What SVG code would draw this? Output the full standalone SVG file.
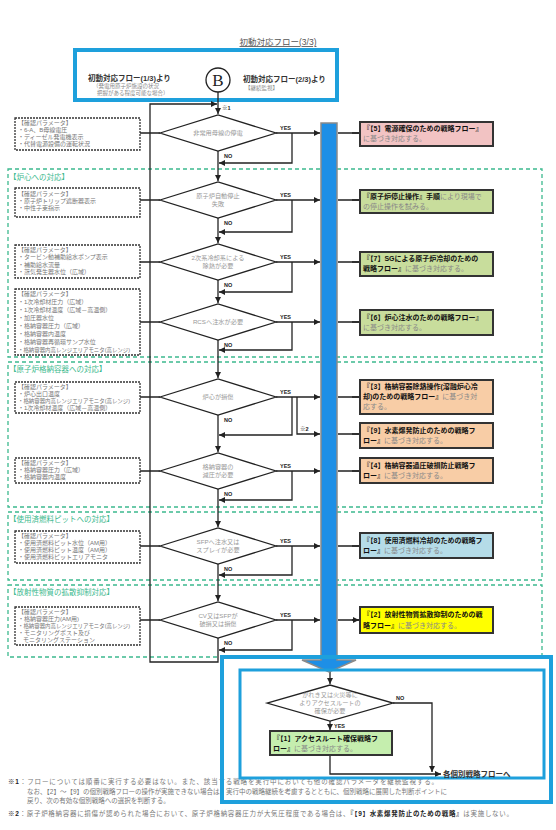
<svg xmlns="http://www.w3.org/2000/svg" width="556" height="830" viewBox="0 0 556 830">
<defs>
<marker id="ah" viewBox="0 0 10 10" refX="10" refY="5" markerWidth="6" markerHeight="6" markerUnits="userSpaceOnUse" orient="auto"><path d="M0,0 L10,5 L0,10 z" fill="#222"/></marker>
<style>
text{font-family:"Liberation Sans","Noto Sans CJK JP",sans-serif}
.title{font-size:8.5px;fill:#555;text-anchor:middle;text-decoration:underline}
.dia{fill:#fff;stroke:#222;stroke-width:1.3}
.dt{font-size:6.2px;fill:#999;text-anchor:middle}
.pbox{fill:#fff;stroke:#333;stroke-width:1.3;stroke-dasharray:2 1}
.pt{font-size:6px;fill:#777}
.sec{fill:none;stroke:#3cb98e;stroke-width:1.3;stroke-dasharray:4 3}
.st{font-size:7.5px;fill:#3cb98e}
.box{stroke:#333;stroke-width:2}
.bt{font-size:7px;fill:#111;font-weight:bold}
.g{font-weight:normal;fill:#888}
.ln{fill:none;stroke:#222;stroke-width:1.3}
.lab{font-size:5.5px;font-weight:bold;fill:#222}
.note{font-size:6.5px;fill:#777}
.nb{font-weight:bold;fill:#222}
</style>
</defs>
<rect width="556" height="830" fill="#fff"/>

<text class="title" x="278" y="45">初動対応フロー(3/3)</text>

<!-- sections -->
<g id="sections">
<rect class="sec" x="8" y="169" width="534" height="188"/>
<text class="st" x="9" y="180">【炉心への対応】</text>
<rect class="sec" x="8" y="362" width="534" height="145"/>
<text class="st" x="9" y="372">【原子炉格納容器への対応】</text>
<rect class="sec" x="8" y="512" width="534" height="68"/>
<text class="st" x="9" y="522">【使用済燃料ピットへの対応】</text>
<rect class="sec" x="8" y="585" width="534" height="72"/>
<text class="st" x="9" y="595">【放射性物質の拡散抑制対応】</text>
</g>

<!-- top box -->
<g id="start">
<rect x="75" y="50" width="262" height="50" fill="#fff" stroke="#1ea0dc" stroke-width="4"/>
<text x="88" y="81" font-size="7.5" font-weight="bold" fill="#333">初動対応フロー(1/3)より</text>
<text x="93" y="88" font-size="5.5" fill="#888">（発電用原子炉施設の状況</text>
<text x="97" y="95" font-size="5.5" fill="#888">把握がある程度可能な場合）</text>
<circle cx="218" cy="80" r="12" fill="#fff" stroke="#222" stroke-width="1.3"/>
<text x="218" y="86" font-size="17" text-anchor="middle" fill="#222" style="font-family:'Liberation Serif',serif">B</text>
<text x="243" y="82" font-size="7.5" font-weight="bold" fill="#333">初動対応フロー(2/3)より</text>
<text x="245" y="90" font-size="5.5" fill="#888">【継続監視】</text>
</g>

<!-- parameter boxes -->
<g id="p1"><rect class="pbox" x="15" y="118" width="125" height="32"/>
<text class="pt" x="18" y="125">【確認パラメータ】</text><text class="pt" x="18" y="132">・6-A、B母線電圧</text><text class="pt" x="18" y="139">・ディーゼル発電機表示</text><text class="pt" x="18" y="146">・代替電源設備の運転状況</text></g>
<g id="p2"><rect class="pbox" x="15" y="188" width="125" height="29"/>
<text class="pt" x="18" y="196">【確認パラメータ】</text><text class="pt" x="18" y="203">・原子炉トリップ遮断器表示</text><text class="pt" x="18" y="210">・中性子束指示</text></g>
<g id="p3"><rect class="pbox" x="15" y="245" width="125" height="33"/>
<text class="pt" x="18" y="252">【確認パラメータ】</text><text class="pt" x="18" y="259">・タービン動補助給水ポンプ表示</text><text class="pt" x="18" y="267">・補助給水流量</text><text class="pt" x="18" y="274">・蒸気発生器水位（広域）</text></g>
<g id="p4"><rect class="pbox" x="15" y="289" width="125" height="66"/>
<text class="pt" x="18" y="296">【確認パラメータ】</text><text class="pt" x="18" y="304">・1次冷却材圧力（広域）</text><text class="pt" x="18" y="312">・1次冷却材温度（広域－高温側）</text><text class="pt" x="18" y="320">・加圧器水位</text><text class="pt" x="18" y="328">・格納容器圧力（広域）</text><text class="pt" x="18" y="336">・格納容器内温度</text><text class="pt" x="18" y="344">・格納容器再循環サンプ水位</text><text class="pt" x="18" y="352" textLength="112" lengthAdjust="spacingAndGlyphs">・格納容器内高レンジエリアモニタ(高レンジ)</text></g>
<g id="p5"><rect class="pbox" x="15" y="382" width="125" height="31"/>
<text class="pt" x="18" y="389">【確認パラメータ】</text><text class="pt" x="18" y="396">・炉心出口温度</text><text class="pt" x="18" y="403" textLength="112" lengthAdjust="spacingAndGlyphs">・格納容器内高レンジエリアモニタ(高レンジ)</text><text class="pt" x="18" y="410">・1次冷却材温度（広域－高温側）</text></g>
<g id="p6"><rect class="pbox" x="15" y="458" width="125" height="25"/>
<text class="pt" x="18" y="465">【確認パラメータ】</text><text class="pt" x="18" y="472">・格納容器圧力（広域）</text><text class="pt" x="18" y="479">・格納容器内温度</text></g>
<g id="p7"><rect class="pbox" x="15" y="531" width="125" height="32"/>
<text class="pt" x="18" y="538">【確認パラメータ】</text><text class="pt" x="18" y="545">・使用済燃料ピット水位（AM用）</text><text class="pt" x="18" y="552">・使用済燃料ピット温度（AM用）</text><text class="pt" x="18" y="559">・使用済燃料ピットエリアモニタ</text></g>
<g id="p8"><rect class="pbox" x="15" y="607" width="125" height="38"/>
<text class="pt" x="18" y="614">【確認パラメータ】</text><text class="pt" x="18" y="621">・格納容器圧力(AM用)</text><text class="pt" x="18" y="628" textLength="112" lengthAdjust="spacingAndGlyphs">・格納容器内高レンジエリアモニタ(高レンジ)</text><text class="pt" x="18" y="635">・モニタリングポスト及び</text><text class="pt" x="23" y="642">モニタリングステーション</text></g>

<!-- connectors -->
<g id="connectors">
<path class="ln" d="M218,92 V114" marker-end="url(#ah)"/>
<path class="ln" d="M218,638 V662 H150 V104 H217" marker-end="url(#ah)"/>
<text class="lab" x="222" y="110">※1</text>
<!-- param links -->
<path class="ln" d="M140,133 H160 M140,200 H160 M140,262 H160 M140,322 H160 M140,397 H160 M140,471 H160 M140,546 H160 M140,620 H160"/>
<!-- main line -->
<path class="ln" d="M218,151 V181" marker-end="url(#ah)"/>
<path class="ln" d="M218,218 V243" marker-end="url(#ah)"/>
<path class="ln" d="M218,280 V303" marker-end="url(#ah)"/>
<path class="ln" d="M218,340 V378" marker-end="url(#ah)"/>
<path class="ln" d="M218,415 V452" marker-end="url(#ah)"/>
<path class="ln" d="M218,489 V527" marker-end="url(#ah)"/>
<path class="ln" d="M218,564 V601" marker-end="url(#ah)"/>
<!-- YES to bar -->
<path class="ln" d="M276,133 H320" marker-end="url(#ah)"/>
<path class="ln" d="M276,200 H320" marker-end="url(#ah)"/>
<path class="ln" d="M276,262 H320" marker-end="url(#ah)"/>
<path class="ln" d="M276,322 H320" marker-end="url(#ah)"/>
<path class="ln" d="M276,397 H320" marker-end="url(#ah)"/>
<path class="ln" d="M276,471 H320" marker-end="url(#ah)"/>
<path class="ln" d="M276,546 H320" marker-end="url(#ah)"/>
<path class="ln" d="M276,620 H320" marker-end="url(#ah)"/>
<!-- joins -->
<path class="ln" d="M292,133 V163 H219" marker-end="url(#ah)"/>
<path class="ln" d="M292,200 V232 H219" marker-end="url(#ah)"/>
<path class="ln" d="M292,262 V292 H219" marker-end="url(#ah)"/>
<path class="ln" d="M292,322 V350 H219" marker-end="url(#ah)"/>
<path class="ln" d="M292,397 V435 H219" marker-end="url(#ah)"/>
<path class="ln" d="M297,397 V434 H320" marker-end="url(#ah)"/>
<path class="ln" d="M292,471 V500 H219" marker-end="url(#ah)"/>
<path class="ln" d="M292,546 V575 H219" marker-end="url(#ah)"/>
<path class="ln" d="M292,620 V650 H219" marker-end="url(#ah)"/>
<text class="lab" x="300" y="431">※2</text>
<!-- bar to boxes -->
<path class="ln" d="M338,133 H359 M338,200 H359 M338,262 H359 M338,322 H359 M338,397 H359 M338,434 H359 M338,471 H359 M338,546 H359 M338,620 H359"/>
<path class="ln" d="M352,133 H359 M352,200 H359 M352,262 H359 M352,322 H359 M352,397 H359 M352,434 H359 M352,471 H359 M352,546 H359 M352,620 H359" marker-end="url(#ah)"/>
<!-- YES/NO labels -->
<g class="lab">
<text x="280" y="130">YES</text><text x="280" y="197">YES</text><text x="280" y="259">YES</text><text x="280" y="319">YES</text><text x="280" y="394">YES</text><text x="280" y="468">YES</text><text x="280" y="543">YES</text><text x="280" y="617">YES</text>
<text x="224" y="158">NO</text><text x="224" y="225">NO</text><text x="224" y="287">NO</text><text x="224" y="347">NO</text><text x="224" y="422">NO</text><text x="224" y="496">NO</text><text x="224" y="571">NO</text><text x="224" y="645">NO</text>
</g>
<!-- bottom area -->
<path class="ln" d="M330,672 V684" marker-end="url(#ah)"/>
<path class="ln" d="M393,703 H432 V772" marker-end="url(#ah)"/>
<path class="ln" d="M330,721 V730" marker-end="url(#ah)"/>
<path class="ln" d="M330,755 V774 H441" marker-end="url(#ah)"/>
<text class="lab" x="396" y="700">NO</text>
<text class="lab" x="334" y="728">YES</text>
</g>

<!-- blue bar -->
<g id="bar">
<polygon points="321,123 337,123 337,660 356,660 329,672 302,660 321,660" fill="#1e8fe6" stroke="#8a8a8a" stroke-width="1.5"/>
</g>

<!-- diamonds -->
<g id="d1"><polygon class="dia" points="160,133 218,115 276,133 218,151"/><text class="dt" x="218" y="135">非常用母線の停電</text></g>
<g id="d2"><polygon class="dia" points="160,200 218,182 276,200 218,218"/><text class="dt" x="218" y="198">原子炉自動停止</text><text class="dt" x="218" y="206">失敗</text></g>
<g id="d3"><polygon class="dia" points="160,262 218,244 276,262 218,280"/><text class="dt" x="218" y="260">2次系冷却系による</text><text class="dt" x="218" y="268">除熱が必要</text></g>
<g id="d4"><polygon class="dia" points="160,322 218,304 276,322 218,340"/><text class="dt" x="218" y="324">RCSへ注水が必要</text></g>
<g id="d5"><polygon class="dia" points="160,397 218,379 276,397 218,415"/><text class="dt" x="218" y="399">炉心が損傷</text></g>
<g id="d6"><polygon class="dia" points="160,471 218,453 276,471 218,489"/><text class="dt" x="218" y="469">格納容器の</text><text class="dt" x="218" y="477">減圧が必要</text></g>
<g id="d7"><polygon class="dia" points="160,546 218,528 276,546 218,564"/><text class="dt" x="218" y="544">SFPへ注水又は</text><text class="dt" x="218" y="552">スプレイが必要</text></g>
<g id="d8"><polygon class="dia" points="160,620 218,602 276,620 218,638"/><text class="dt" x="218" y="618">CV又はSFPが</text><text class="dt" x="218" y="626">破損又は損傷</text></g>

<!-- action boxes -->
<g id="b1"><rect class="box" x="360" y="122" width="133" height="24" fill="#f2c3c3"/><text class="bt" x="363" y="131">『【5】電源確保のための戦略フロー』</text><text class="bt" x="363" y="141"><tspan class="g">に基づき対応する。</tspan></text></g>
<g id="b2"><rect class="box" x="360" y="190" width="133" height="23" fill="#c8dd9c"/><text class="bt" x="363" y="199">『原子炉停止操作』手順<tspan class="g">により現場で</tspan></text><text class="bt" x="363" y="209"><tspan class="g">の停止操作を試みる。</tspan></text></g>
<g id="b3"><rect class="box" x="360" y="252" width="133" height="24" fill="#c8dd9c"/><text class="bt" x="363" y="261">『【7】SGによる原子炉冷却のための</text><text class="bt" x="363" y="271">戦略フロー』<tspan class="g">に基づき対応する。</tspan></text></g>
<g id="b4"><rect class="box" x="360" y="310" width="133" height="25" fill="#c8dd9c"/><text class="bt" x="363" y="320">『【6】炉心注水のための戦略フロー』</text><text class="bt" x="363" y="330"><tspan class="g">に基づき対応する。</tspan></text></g>
<g id="b5"><rect class="box" x="360" y="380" width="133" height="34" fill="#f8cda6"/><text class="bt" x="363" y="389">『【3】格納容器除熱操作(溶融炉心冷</text><text class="bt" x="363" y="399">却)のための戦略フロー』<tspan class="g">に基づき対</tspan></text><text class="bt" x="363" y="409"><tspan class="g">応する。</tspan></text></g>
<g id="b6"><rect class="box" x="360" y="423" width="133" height="25" fill="#f8cda6"/><text class="bt" x="363" y="433">『【9】水素爆発防止のための戦略フ</text><text class="bt" x="363" y="443">ロー』<tspan class="g">に基づき対応する。</tspan></text></g>
<g id="b7"><rect class="box" x="360" y="458" width="133" height="25" fill="#f8cda6"/><text class="bt" x="363" y="468">『【4】格納容器過圧破損防止戦略フ</text><text class="bt" x="363" y="478">ロー』<tspan class="g">に基づき対応する。</tspan></text></g>
<g id="b8"><rect class="box" x="360" y="533" width="133" height="25" fill="#b5dce8"/><text class="bt" x="363" y="543">『【8】使用済燃料冷却のための戦略フ</text><text class="bt" x="363" y="553">ロー』<tspan class="g">に基づき対応する。</tspan></text></g>
<g id="b9"><rect class="box" x="360" y="607" width="133" height="26" fill="#ffff00"/><text class="bt" x="363" y="617">『【2】放射性物質拡散抑制のための戦</text><text class="bt" x="363" y="628">略フロー』<tspan class="g">に基づき対応する。</tspan></text></g>

<!-- notes -->
<g id="notes">
<text class="note" x="8" y="784" textLength="430" lengthAdjust="spacing"><tspan class="nb">※1</tspan>：フローについては順番に実行する必要はない。また、該当する戦略を実行中においても他の確認パラメータを継続監視する。</text>
<text class="note" x="27" y="794" textLength="420" lengthAdjust="spacing">なお、【2】～【9】の個別戦略フローの操作が実施できない場合は、実行中の戦略継続を考慮するとともに、個別戦略に展開した判断ポイントに</text>
<text class="note" x="27" y="803">戻り、次の有効な個別戦略への選択を判断する。</text>
<text class="note" x="8" y="816" textLength="505" lengthAdjust="spacing"><tspan class="nb">※2</tspan>：原子炉格納容器に損傷が認められた場合において、原子炉格納容器圧力が大気圧程度である場合は、<tspan class="nb">『【9】水素爆発防止のための戦略』</tspan>は実施しない。</text>
</g>

<!-- bottom block -->
<g id="bottom">
<rect x="222" y="657" width="329" height="145" fill="none" stroke="#1ea0dc" stroke-width="4"/>
<rect x="240" y="670" width="304" height="108" fill="none" stroke="#1ea0dc" stroke-width="3"/>
</g>
<g id="d9"><polygon class="dia" points="267,703 330,685 393,703 330,721"/><text class="dt" x="330" y="697">がれき又は火災等に</text><text class="dt" x="330" y="705">よりアクセスルートの</text><text class="dt" x="330" y="713">確保が必要</text></g>
<g id="b10"><rect class="box" x="270" y="731" width="122" height="24" fill="#c5eeae"/><text class="bt" x="273" y="741">『【1】アクセスルート確保戦略フ</text><text class="bt" x="273" y="751">ロー』<tspan class="g">に基づき対応する。</tspan></text></g>
<g id="end"><text x="443" y="777" font-size="7.5" font-weight="bold" fill="#333">各個別戦略フローへ</text></g>
</svg>
